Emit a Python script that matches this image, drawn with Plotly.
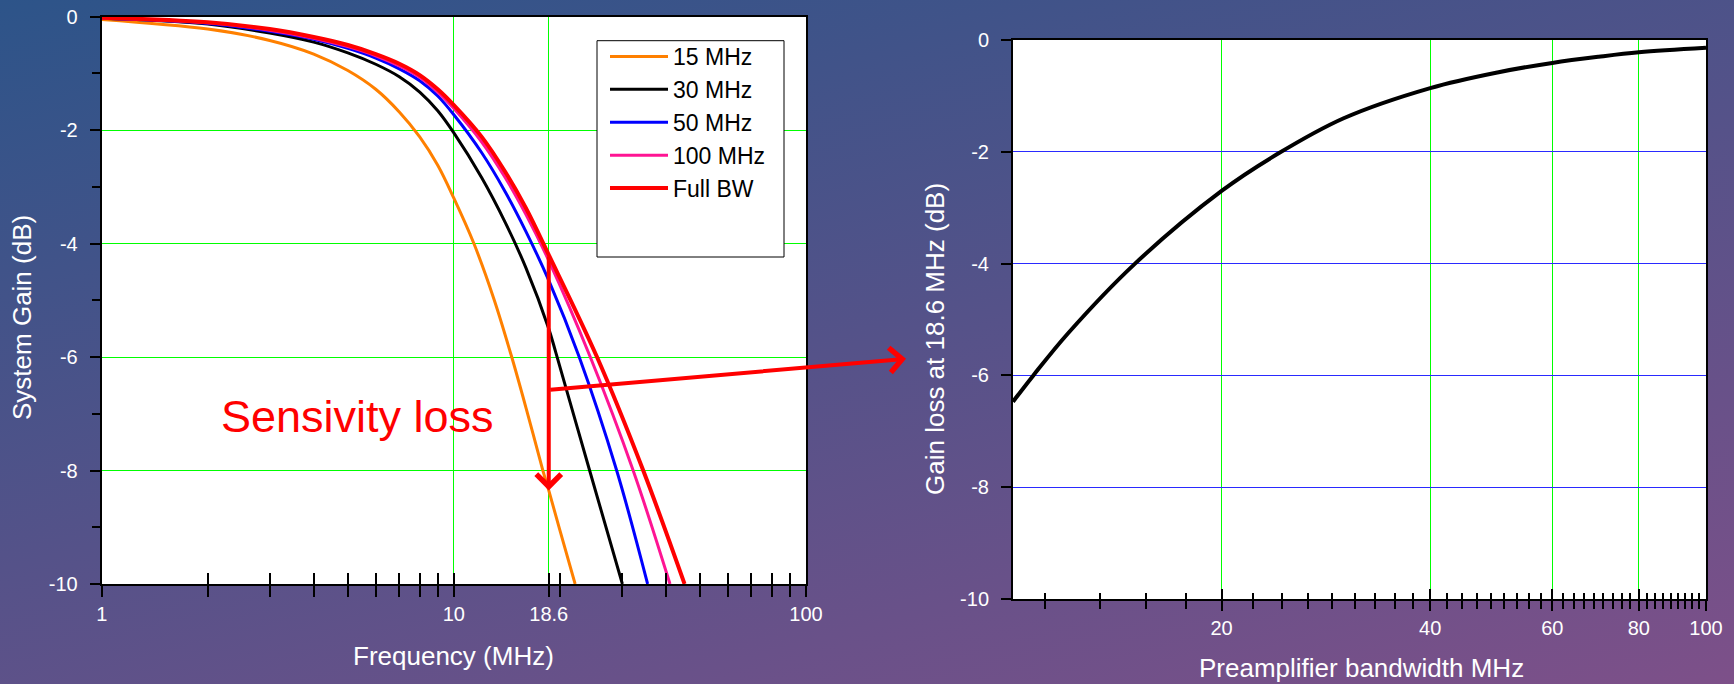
import base64
import math
import plotly.graph_objects as go

# ---------------- data ----------------
FREQ_15 = [1, 2, 3, 4, 5, 6, 7, 8, 9, 10, 11.4, 13, 14.6, 16.2, 17.9, 18.6, 20, 22.1]
GAIN_15 = [-0.05, -0.22, -0.42, -0.66, -0.95, -1.28, -1.68, -2.12, -2.62, -3.2, -4.0, -4.98, -6.0, -7.0, -8.0, -8.35, -9.05, -10.0]

FREQ_30 = [1, 2, 3, 4, 5, 6, 7, 8, 9, 10, 12, 14, 16, 18.6, 19.5, 24.3, 30.1]
GAIN_30 = [-0.03, -0.13, -0.29, -0.45, -0.64, -0.84, -1.06, -1.33, -1.66, -2.05, -2.84, -3.63, -4.42, -5.5, -5.93, -8.0, -10.0]

FREQ_50 = [1, 2, 3, 4, 5, 6, 7, 8, 9, 10, 12, 14, 16, 18.6, 22.7, 29.0, 35.5]
GAIN_50 = [-0.03, -0.12, -0.26, -0.4, -0.56, -0.73, -0.92, -1.13, -1.4, -1.73, -2.4, -3.09, -3.78, -4.65, -6.0, -8.0, -10.0]

FREQ_100 = [1, 2, 3, 4, 5, 6, 7, 8, 9, 10, 12, 14, 16, 18.6, 24.4, 32.3, 41.1]
GAIN_100 = [-0.03, -0.11, -0.24, -0.38, -0.53, -0.69, -0.87, -1.07, -1.33, -1.62, -2.21, -2.84, -3.48, -4.3, -6.0, -8.0, -10.0]

FREQ_FULL = [1, 2, 3, 4, 5, 6, 7, 8, 9, 10, 12, 14, 16, 18.6, 25.5, 34.5, 45.2]
GAIN_FULL = [-0.02, -0.1, -0.22, -0.36, -0.5, -0.66, -0.83, -1.03, -1.28, -1.56, -2.12, -2.74, -3.37, -4.2, -6.0, -8.0, -10.0]

SERIES_NAMES = ["15 MHz", "30 MHz", "50 MHz", "100 MHz", "Full BW"]

PREAMP_BW = [10, 10.7, 12, 15, 20, 24, 30, 40, 50, 60, 70, 80, 100]
GAIN_LOSS = [-6.47, -6.0, -5.25, -4.0, -2.7, -2.05, -1.4, -0.86, -0.58, -0.41, -0.30, -0.22, -0.14]

LEFT_X_TICKS = [1, 10, 18.6, 100]
LEFT_X_MINOR = [2, 3, 4, 5, 6, 7, 8, 9, 20, 30, 40, 50, 60, 70, 80, 90]
RIGHT_X_TICKS = [20, 40, 60, 80, 100]
Y_TICKS = [0, -2, -4, -6, -8, -10]
MARK_FREQ = 18.6

# ---------------- styling ----------------
W, H = 1734, 684
FONT = "Liberation Sans, Arial, sans-serif"
COLORS = ["#ff8000", "#000000", "#0000ff", "#ff1493", "#ff0000"]
WIDTHS = [3, 3, 3, 3, 4]
GREEN = "#00ff00"
BLUE_GRID = "#2a2aff"

svg = (
    f'<svg xmlns="http://www.w3.org/2000/svg" width="{W}" height="{H}" '
    f'viewBox="0 0 {W} {H}" preserveAspectRatio="none">'
    '<defs><linearGradient id="g" x1="0" y1="0" x2="0.769" y2="1.154">'
    '<stop offset="0" stop-color="#2d5489"/>'
    '<stop offset="1" stop-color="#7d5089"/>'
    '</linearGradient></defs>'
    f'<rect x="0" y="0" width="{W}" height="{H}" fill="url(#g)"/></svg>'
)
bg_uri = "data:image/svg+xml;base64," + base64.b64encode(svg.encode()).decode()

fig = go.Figure()

freqs = [FREQ_15, FREQ_30, FREQ_50, FREQ_100, FREQ_FULL]
gains = [GAIN_15, GAIN_30, GAIN_50, GAIN_100, GAIN_FULL]
for name, fx, gy, c, w in zip(SERIES_NAMES, freqs, gains, COLORS, WIDTHS):
    fig.add_trace(go.Scatter(
        x=fx, y=gy, name=name, mode="lines",
        line=dict(color=c, width=w, shape="spline", smoothing=1.0),
        xaxis="x", yaxis="y", showlegend=True,
    ))

fig.add_trace(go.Scatter(
    x=PREAMP_BW, y=GAIN_LOSS, mode="lines", showlegend=False,
    line=dict(color="black", width=4, shape="spline", smoothing=1.0),
    xaxis="x2", yaxis="y2",
))

# empty traces that register the overlay axes carrying the inner tick halves
for xa, ya in (("x3", "y"), ("x4", "y2")):
    fig.add_trace(go.Scatter(x=[], y=[], mode="lines", showlegend=False,
                             hoverinfo="skip", xaxis=xa, yaxis=ya))

# domains (pixel layout of reference)
lx = [101.7 / W, 806 / W]
ly = [1 - 584 / H, 1 - 16.6 / H]
rx = [1013 / W, 1706 / W]
ry = [1 - 599 / H, 1 - 40 / H]

tickfont = dict(family=FONT, size=20, color="white")
y_text = [str(v) for v in Y_TICKS]

minor_right = [20 + k * 20 / 9 for k in range(-4, 36) if k % 9 != 0]

common_axis = dict(
    showline=True, linecolor="black", linewidth=2, mirror=True,
    zeroline=False, tickfont=tickfont, tickcolor="black", automargin=False,
)
inner_axis = dict(
    showline=False, showgrid=False, zeroline=False, showticklabels=False,
    ticks="inside", tickcolor="black", automargin=False,
)

fig.update_layout(
    width=W, height=H,
    margin=dict(l=0, r=0, t=0, b=0, pad=0, autoexpand=False),
    paper_bgcolor="#50508a",
    plot_bgcolor="white",
    font=dict(family=FONT),
    images=[dict(source=bg_uri, xref="paper", yref="paper", x=0, y=1,
                 sizex=1, sizey=1, xanchor="left", yanchor="top",
                 sizing="stretch", layer="below")],
    xaxis=dict(
        domain=lx, anchor="y", type="log", range=[0, 2],
        tickmode="array", tickvals=LEFT_X_TICKS, ticktext=[str(v) for v in LEFT_X_TICKS],
        ticks="outside", ticklen=11, tickwidth=2,
        showgrid=True, gridcolor=GREEN, gridwidth=1, ticklabelstandoff=0,
        minor=dict(tickmode="array", tickvals=LEFT_X_MINOR, ticks="outside",
                   ticklen=11, tickwidth=1.5, tickcolor="black", showgrid=False),
        **common_axis,
    ),
    xaxis3=dict(
        overlaying="x", anchor="y", type="log", range=[0, 2],
        tickmode="array", tickvals=LEFT_X_TICKS, ticklen=11, tickwidth=2,
        minor=dict(tickmode="array", tickvals=LEFT_X_MINOR, ticks="inside",
                   ticklen=11, tickwidth=1.5, tickcolor="black", showgrid=False),
        **inner_axis,
    ),
    yaxis=dict(
        domain=ly, anchor="x", range=[-10, 0],
        tickmode="array", tickvals=Y_TICKS, ticktext=y_text,
        ticks="outside", ticklen=10, tickwidth=1.5,
        showgrid=True, gridcolor=GREEN, gridwidth=1, ticklabelstandoff=8,
        minor=dict(tickmode="linear", tick0=1, dtick=1, ticks="outside",
                   ticklen=8, tickwidth=1.5, tickcolor="black", showgrid=False),
        **common_axis,
    ),
    xaxis2=dict(
        domain=rx, anchor="y2", type="log", range=[1, 2],
        tickmode="array", tickvals=RIGHT_X_TICKS, ticktext=[str(v) for v in RIGHT_X_TICKS],
        ticks="outside", ticklen=10, tickwidth=2,
        showgrid=True, gridcolor=GREEN, gridwidth=1, ticklabelstandoff=0,
        minor=dict(tickmode="array", tickvals=minor_right, ticks="outside",
                   ticklen=8, tickwidth=1.5, tickcolor="black", showgrid=False),
        **common_axis,
    ),
    xaxis4=dict(
        overlaying="x2", anchor="y2", type="log", range=[1, 2],
        tickmode="array", tickvals=RIGHT_X_TICKS, ticklen=10, tickwidth=2,
        minor=dict(tickmode="array", tickvals=minor_right, ticks="inside",
                   ticklen=6, tickwidth=1.5, tickcolor="black", showgrid=False),
        **inner_axis,
    ),
    yaxis2=dict(
        domain=ry, anchor="x2", range=[-10, 0],
        tickmode="array", tickvals=Y_TICKS, ticktext=y_text,
        ticks="outside", ticklen=10, tickwidth=1.5,
        showgrid=True, gridcolor=BLUE_GRID, gridwidth=1, ticklabelstandoff=8,
        **common_axis,
    ),
    legend=dict(
        x=605 / W, y=1 - 35 / H, xanchor="left", yanchor="top",
        bgcolor="rgba(0,0,0,0)", borderwidth=0,
        font=dict(family=FONT, size=23, color="black"),
        itemwidth=58, tracegroupgap=0,
    ),
    shapes=[
        dict(type="rect", xref="x domain", yref="y domain", x0=0, x1=1, y0=0, y1=1,
             line=dict(width=0), fillcolor="white", layer="below"),
        dict(type="rect", xref="x2 domain", yref="y2 domain", x0=0, x1=1, y0=0, y1=1,
             line=dict(width=0), fillcolor="white", layer="below"),
        # legend frame
        dict(type="rect", xref="paper", yref="paper",
             x0=597 / W, x1=784 / W, y0=1 - 257 / H, y1=1 - 40.7 / H,
             line=dict(color="black", width=1), fillcolor="white", layer="above"),
    ],
)

start_gain = GAIN_FULL[FREQ_FULL.index(MARK_FREQ)]
end_gain = GAIN_15[FREQ_15.index(MARK_FREQ)]
lm = math.log10(MARK_FREQ)

annotations = [
    # vertical sensitivity-loss arrow
    dict(xref="x", yref="y", axref="x", ayref="y", x=lm, y=end_gain, ax=lm, ay=start_gain,
         text="", showarrow=True, arrowhead=4, arrowsize=1.2, arrowwidth=4, arrowcolor="#ff0000"),
    # arrow to the right-hand chart
    dict(xref="x", yref="y", axref="x", ayref="y", x=2.284, y=-6.03, ax=lm, ay=-6.58,
         text="", showarrow=True, arrowhead=4, arrowsize=1.2, arrowwidth=4, arrowcolor="#ff0000"),
    dict(xref="paper", yref="paper", x=357 / W, y=1 - 416 / H, xanchor="center", yanchor="middle",
         text="Sensivity loss", showarrow=False, font=dict(family=FONT, size=45, color="#ff0000")),
    dict(xref="paper", yref="paper", x=454 / W, y=1 - 656 / H, xanchor="center", yanchor="middle",
         text="Frequency (MHz)", showarrow=False, font=dict(family=FONT, size=26, color="white")),
    dict(xref="paper", yref="paper", x=22 / W, y=1 - 318 / H, xanchor="center", yanchor="middle",
         text="System Gain (dB)", textangle=-90, showarrow=False,
         font=dict(family=FONT, size=26, color="white")),
    dict(xref="paper", yref="paper", x=935 / W, y=1 - 339 / H, xanchor="center", yanchor="middle",
         text="Gain loss at 18.6 MHz (dB)", textangle=-90, showarrow=False,
         font=dict(family=FONT, size=26, color="white")),
    dict(xref="paper", yref="paper", x=1361 / W, y=1 - 668 / H, xanchor="center", yanchor="middle",
         text="Preamplifier bandwidth MHz", showarrow=False,
         font=dict(family=FONT, size=26, color="white")),
]
fig.update_layout(annotations=annotations)

fig.write_html(
    "out.html",
    post_script="document.body.style.margin='0px';document.body.style.padding='0px';"
                "document.documentElement.style.overflow='hidden';",
)
